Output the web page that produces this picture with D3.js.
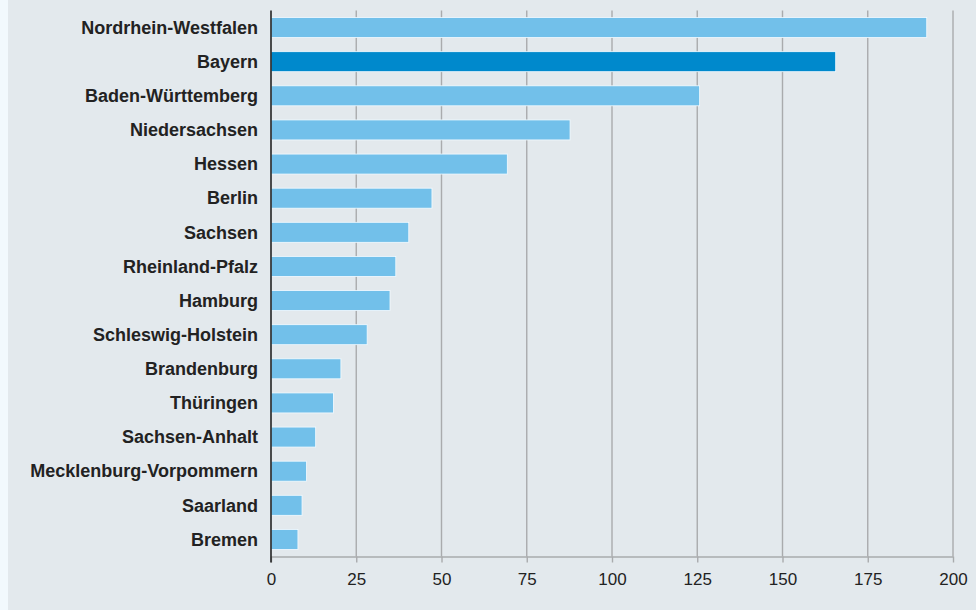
<!DOCTYPE html>
<html>
<head>
<meta charset="utf-8">
<script src="https://cdn.jsdelivr.net/npm/d3@7"></script>
<style>
  html, body { margin: 0; padding: 0; background: #f2f9fd; }
  svg { display: block; }
</style>
</head>
<body>
<svg id="chart"></svg>
<script>
// --- Data ---
const states = [
    "Nordrhein-Westfalen", "Bayern", "Baden-Württemberg", "Niedersachsen",
    "Hessen", "Berlin", "Sachsen", "Rheinland-Pfalz", "Hamburg",
    "Schleswig-Holstein", "Brandenburg", "Thüringen", "Sachsen-Anhalt",
    "Mecklenburg-Vorpommern", "Saarland", "Bremen"
];
const values = [192.3, 165.6, 125.7, 87.7, 69.3, 47.2, 40.4, 36.6, 34.9, 28.2, 20.5, 18.3, 13.1, 10.4, 9.1, 7.9];
const highlighted = ["Bayern"];
const xTicks = [0, 25, 50, 75, 100, 125, 150, 175, 200];

const data = states.map((s, i) => ({ state: s, value: values[i] }));

// --- Size / margins ---
const W = 976, H = 610;
const margin = { top: 10.5, right: 23, bottom: 53.5, left: 271 };
const width = W - margin.left - margin.right;
const height = H - margin.top - margin.bottom;

const svg = d3.select("#chart").attr("width", W).attr("height", H);

// background panel (leaves light strip at the left edge)
svg.append("rect")
    .attr("x", 8).attr("y", 0)
    .attr("width", W - 8).attr("height", H)
    .attr("fill", "#e3e9ed");

const g = svg.append("g").attr("transform", `translate(${margin.left},${margin.top})`);

// --- Scales ---
const x = d3.scaleLinear().domain([0, 200]).range([0, width]);
const y = d3.scaleBand().domain(states).range([0, height]).paddingInner(0.414).paddingOuter(0.207);

// --- Grid lines ---
g.append("g")
    .selectAll("line")
    .data(xTicks.filter(d => d > 0))
    .join("line")
    .attr("x1", d => x(d)).attr("x2", d => x(d))
    .attr("y1", 0).attr("y2", height)
    .attr("stroke", "#a9abad")
    .attr("stroke-width", 1.4);

// --- X axis ---
const xAxisG = g.append("g")
    .attr("transform", `translate(0,${height})`)
    .call(d3.axisBottom(x).tickValues(xTicks).tickSize(6).tickSizeOuter(0).tickPadding(10));
xAxisG.select(".domain").attr("stroke", "#a9abad").attr("stroke-width", 1.4);
xAxisG.selectAll(".tick line").attr("stroke", "#a9abad").attr("stroke-width", 1.4);
xAxisG.selectAll(".tick text")
    .attr("font-family", "Liberation Sans, Arial, Helvetica, sans-serif")
    .attr("font-size", "17px")
    .attr("fill", "#222");

// --- Bars ---
g.append("g")
    .selectAll("rect")
    .data(data)
    .join("rect")
    .attr("x", 0)
    .attr("y", d => y(d.state))
    .attr("width", d => x(d.value))
    .attr("height", y.bandwidth())
    .attr("fill", d => highlighted.includes(d.state) ? "#0089cc" : "#72c0ea")
    .attr("stroke", "#f4fbff")
    .attr("stroke-width", 0.8);

// --- Category labels ---
g.append("g")
    .selectAll("text")
    .data(data)
    .join("text")
    .attr("x", -13)
    .attr("y", d => y(d.state) + y.bandwidth() / 2)
    .attr("dy", "0.35em")
    .attr("text-anchor", "end")
    .attr("font-family", "Liberation Sans, Arial, Helvetica, sans-serif")
    .attr("font-weight", "bold")
    .attr("font-size", "18px")
    .attr("fill", "#222")
    .text(d => d.state);

// --- Vertical axis line at zero ---
g.append("line")
    .attr("x1", 0).attr("x2", 0)
    .attr("y1", 0).attr("y2", height + 6)
    .attr("stroke", "#222")
    .attr("stroke-width", 1.6);
</script>
</body>
</html>
